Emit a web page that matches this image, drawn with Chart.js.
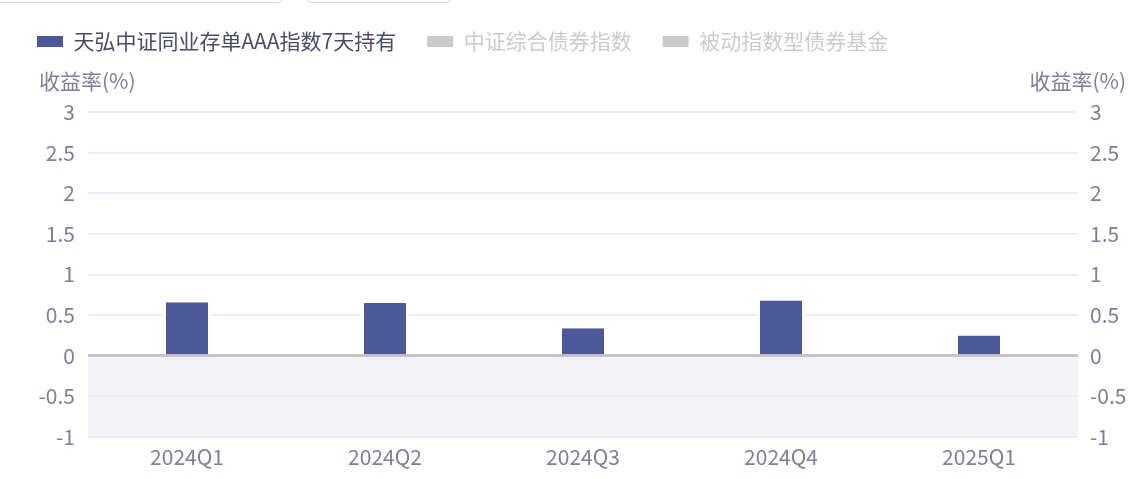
<!DOCTYPE html>
<html>
<head>
<meta charset="utf-8">
<script src="https://cdn.jsdelivr.net/npm/chart.js@4.4.1/dist/chart.umd.min.js"></script>
<style>
  html, body { margin: 0; padding: 0; background: #ffffff; overflow: hidden; }
  #wrap { position: relative; width: 1136px; height: 479px; }
  .deco { position: absolute; border: 1.5px solid #d6d3e6; border-radius: 7px; box-sizing: border-box; background: #fff; }
  canvas { position: absolute; left: 0; top: 0; }
</style>
</head>
<body>
<div id="wrap">
  <div class="deco" style="left:-12px; top:-40px; width:296px; height:43px;"></div>
  <div class="deco" style="left:305px; top:-40px; width:148px; height:43px;"></div>
  <canvas id="c" width="1136" height="479"></canvas>
</div>
<script>
const categories = ['2024Q1', '2024Q2', '2024Q3', '2024Q4', '2025Q1'];
const fundReturns = [0.66, 0.65, 0.34, 0.68, 0.25];
const bondIndexReturns = [];
const passiveFundReturns = [];
const seriesNames = ['天弘中证同业存单AAA指数7天持有', '中证综合债券指数', '被动指数型债券基金'];
const axisTitle = '收益率(%)';
const yMin = -1, yMax = 3, yStep = 0.5;

const FONT = "'Noto Sans CJK SC', 'Noto Sans', sans-serif";
const TICK_COLOR = '#7e7e98';
const BAR_COLOR = '#4c5897';
const HIDDEN_COLOR = '#cbcbcb';

const bgPlugin = {
  id: 'negBand',
  beforeDraw(chart) {
    const { ctx, chartArea } = chart;
    const y0 = chart.scales.y.getPixelForValue(0);
    ctx.save();
    ctx.fillStyle = '#f4f4f7';
    ctx.fillRect(chartArea.left, y0, chartArea.right - chartArea.left, chartArea.bottom - y0);
    ctx.restore();
  },
  afterDraw(chart) {
    const { ctx } = chart;
    ctx.save();
    ctx.font = '21px ' + FONT;
    ctx.fillStyle = TICK_COLOR;
    ctx.textBaseline = 'middle';
    ctx.textAlign = 'left';
    ctx.fillText(axisTitle, 39, 81);
    ctx.textAlign = 'right';
    ctx.fillText(axisTitle, 1126, 81);
    ctx.restore();
  }
};

const legendHeight = {
  id: 'legendHeight',
  beforeInit(chart) {
    const orig = chart.legend.fit;
    chart.legend.fit = function () {
      orig.bind(chart.legend)();
      this.height = 112;
    };
  }
};

const fmt = v => String(Number(v));

new Chart(document.getElementById('c'), {
  type: 'bar',
  data: {
    labels: categories,
    datasets: [
      {
        label: seriesNames[0],
        data: fundReturns,
        backgroundColor: BAR_COLOR,
        borderColor: '#ffffff',
        borderWidth: { left: 3, right: 3, top: 0, bottom: 0 },
        borderSkipped: false,
        categoryPercentage: 1,
        barPercentage: 0.2424,
        yAxisID: 'y'
      },
      { label: seriesNames[1], data: bondIndexReturns, backgroundColor: HIDDEN_COLOR, hidden: true, yAxisID: 'y' },
      { label: seriesNames[2], data: passiveFundReturns, backgroundColor: HIDDEN_COLOR, hidden: true, yAxisID: 'y' }
    ]
  },
  options: {
    responsive: false,
    animation: false,
    devicePixelRatio: 1,
    layout: { padding: { left: 6, right: 0, top: 0, bottom: 0 } },
    plugins: {
      legend: {
        display: true,
        position: 'top',
        align: 'start',
        labels: {
          boxWidth: 26,
          boxHeight: 11,
          padding: 31,
          font: { family: FONT, size: 21 },
          generateLabels(chart) {
            return chart.data.datasets.map((ds, i) => {
              const hidden = !chart.isDatasetVisible(i);
              return {
                text: ds.label,
                fillStyle: hidden ? HIDDEN_COLOR : BAR_COLOR,
                strokeStyle: hidden ? HIDDEN_COLOR : BAR_COLOR,
                lineWidth: 0,
                fontColor: hidden ? HIDDEN_COLOR : '#4a4a6a',
                hidden: false,
                datasetIndex: i
              };
            });
          }
        }
      },
      tooltip: { enabled: false }
    },
    scales: {
      x: {
        grid: { display: false, drawTicks: false },
        border: { display: false },
        ticks: { color: TICK_COLOR, font: { family: FONT, size: 21 }, padding: 7 },
        afterFit(scale) { scale.height = 42; }
      },
      y: {
        position: 'left',
        min: yMin, max: yMax,
        border: { display: false },
        grid: {
          drawTicks: false,
          color: ctx => ctx.tick && ctx.tick.value === 0 ? '#c3c2cd' : '#ececf4',
          lineWidth: ctx => ctx.tick && ctx.tick.value === 0 ? 3 : 2
        },
        ticks: { stepSize: yStep, color: TICK_COLOR, font: { family: FONT, size: 21 }, padding: 13, callback: fmt },
        afterFit(scale) { scale.width = 82; }
      },
      y2: {
        position: 'right',
        min: yMin, max: yMax,
        border: { display: false },
        grid: { display: false, drawTicks: false },
        ticks: { stepSize: yStep, color: TICK_COLOR, font: { family: FONT, size: 21 }, padding: 12, callback: fmt },
        afterFit(scale) { scale.width = 58; }
      }
    }
  },
  plugins: [bgPlugin, legendHeight]
});
</script>
</body>
</html>
